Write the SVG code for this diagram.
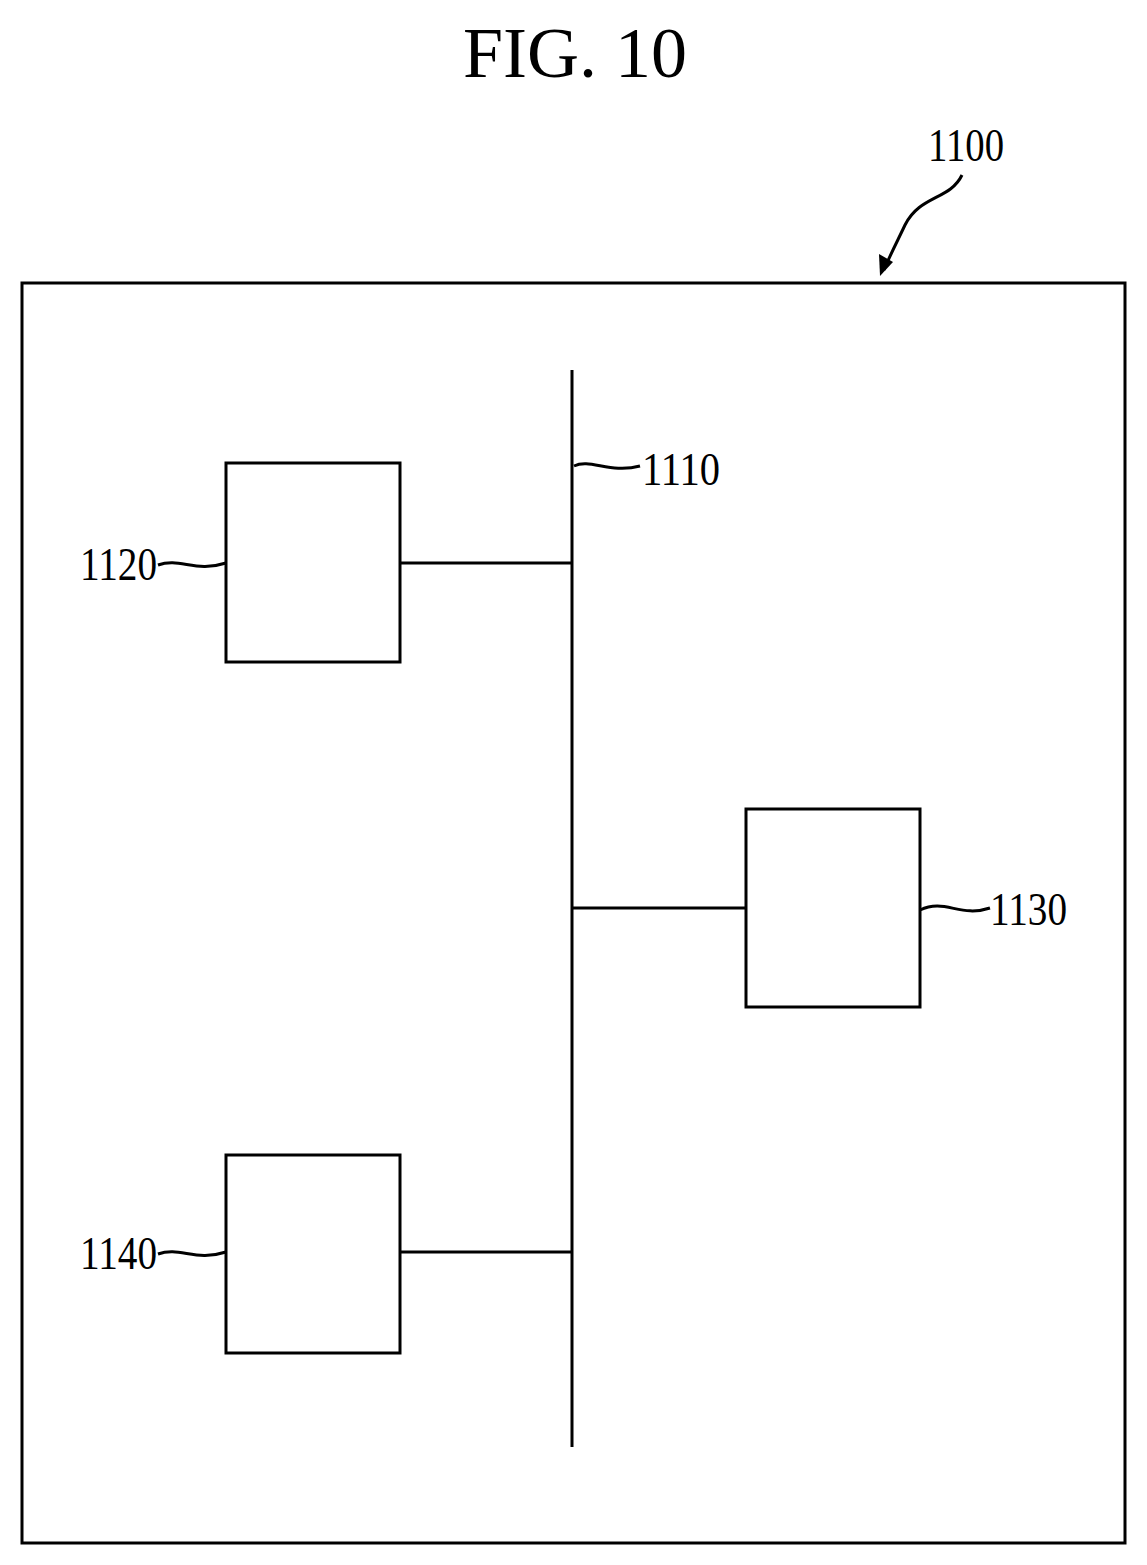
<svg xmlns="http://www.w3.org/2000/svg" width="1147" height="1565" viewBox="0 0 1147 1565">
<style>
.l{fill:none;stroke:#000;stroke-width:3}
.t{font-family:"Liberation Serif",serif;font-size:46px;fill:#000}
</style>
<defs><marker id="a" markerWidth="10" markerHeight="10" refX="8" refY="5" orient="auto" markerUnits="userSpaceOnUse"><path d="M0,0 L10,5 L0,10 z" fill="#000" transform="scale(2.2) translate(-4.5,-2.7)"/></marker></defs>
<rect width="1147" height="1565" fill="#fff"/>
<text x="575" y="77" text-anchor="middle" font-family="Liberation Serif,serif" font-size="72">FIG. 10</text>
<g id="n1100">
<rect class="l" x="22" y="283" width="1103" height="1260"/>
<text class="t" x="928" y="161" textLength="76" lengthAdjust="spacingAndGlyphs">1100</text>
<path class="l" d="M962,175 C950,200 920,195 905,225 C898,240 890,255 884,270" stroke-width="2"/>
<path d="M880,276 L879,254 L893,262 Z" fill="#000"/>
</g>
<g id="n1110">
<line class="l" x1="572" y1="370" x2="572" y2="1447"/>
<path class="l" stroke-width="2" d="M574,466 C590,458 610,474 640,466"/>
<text class="t" x="642" y="485" textLength="78" lengthAdjust="spacingAndGlyphs">1110</text>
</g>
<g id="n1120">
<rect class="l" x="226" y="463" width="174" height="199"/>
<path class="l" stroke-width="2" d="M158,565 C180,557 195,573 226,563"/>
<text class="t" x="80" y="580" textLength="77" lengthAdjust="spacingAndGlyphs">1120</text>
</g>
<g id="n1130">
<rect class="l" x="746" y="809" width="174" height="198"/>
<path class="l" stroke-width="2" d="M920,910 C945,898 960,918 990,908"/>
<text class="t" x="990" y="925" textLength="77" lengthAdjust="spacingAndGlyphs">1130</text>
</g>
<g id="n1140">
<rect class="l" x="226" y="1155" width="174" height="198"/>
<path class="l" stroke-width="2" d="M158,1254 C180,1246 195,1262 226,1252"/>
<text class="t" x="80" y="1269" textLength="77" lengthAdjust="spacingAndGlyphs">1140</text>
</g>
<g id="connectors">
<line class="l" x1="400" y1="563" x2="572" y2="563"/>
<line class="l" x1="572" y1="908" x2="746" y2="908"/>
<line class="l" x1="400" y1="1252" x2="572" y2="1252"/>
</g>
</svg>
